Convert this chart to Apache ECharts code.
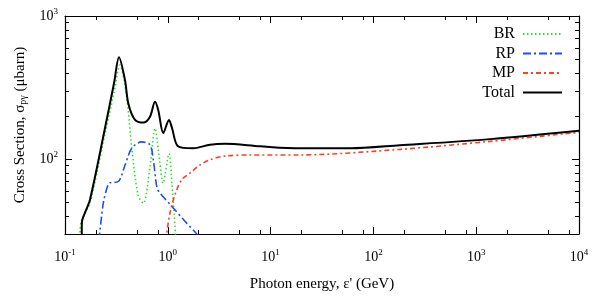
<!DOCTYPE html>
<html><head><meta charset="utf-8">
<script src="https://cdn.jsdelivr.net/npm/echarts@6/dist/echarts.min.js"></script>
<style>html,body{margin:0;padding:0;background:#fff}#c{width:599px;height:300px}</style>
</head><body><div id="c"></div>
<script>
// Photon energy (GeV) and cross sections (μbarn)
const brE = [0.139, 0.143, 0.175, 0.245, 0.30, 0.343, 0.398, 0.446, 0.513, 0.578, 0.671, 0.751, 0.830, 0.898, 1.027, 1.099, 1.20];
const brV = [27, 36, 49.6, 150, 291, 454, 273, 120, 56.4, 49.2, 88.8, 164, 99, 68, 109, 66, 27];

const rpE = [0.214, 0.236, 0.262, 0.274, 0.330, 0.384, 0.446, 0.557, 0.671, 0.723, 0.785, 0.840, 1.131, 1.47, 1.91, 1.98];
const rpV = [27, 49.4, 66.2, 68.4, 69.8, 91, 119, 132, 126, 99, 63, 58, 45.6, 36.8, 30, 28];

const mpE = [0.955, 1.05, 1.175, 1.365, 1.644, 2.056, 2.57, 3.6, 6.3, 19.3, 181, 1361, 10000];
const mpV = [27, 42.1, 56.4, 71.8, 79.9, 91, 99, 105, 107, 107, 117, 133, 154];

const totE = [0.1455, 0.1458, 0.1565, 0.175, 0.245, 0.30, 0.335, 0.3836, 0.4128, 0.48, 0.578, 0.671, 0.751, 0.808, 0.904, 1.027, 1.099, 1.257, 1.758, 2.574, 3.6, 7.9, 19.3, 59, 181, 1361, 10000];
const totV = [27, 36, 42.3, 52.1, 165, 340, 516, 356, 245, 188, 180, 198, 252, 220, 152, 188, 165, 123, 119, 126, 128, 123, 119, 119, 125, 138, 158];

const xMajor = [0.1, 1, 10, 100, 1000, 10000];
const xMinor = [0.2, 0.5, 0.8, 2, 5, 8, 20, 50, 80, 200, 500, 800, 2000, 5000, 8000];
const yMajor = [100, 1000];
const yMinor = [40, 50, 60, 70, 80, 90, 200, 300, 400, 500, 600, 700, 800, 900];
const xRange = [0.1, 10000];
const yRange = [30, 1000];

const L = Math.log10;
const pts = (E, V) => E.map((e, i) => [L(e), L(V[i])]);
const FONT = 'Liberation Serif';

const xmin = L(xRange[0]), xmax = L(xRange[1]);
const ymin = L(yRange[0]), ymax = L(yRange[1]);

const labelRich = {
  b: { fontFamily: FONT, fontSize: 14, color: '#000' },
  s: { fontFamily: FONT, fontSize: 9, color: '#000', padding: [0, 0, 9, 0] }
};
const fmt = v => '{b|10}{s|' + Math.round(v) + '}';

function xAx(pos, ticks, len, labels) {
  return {
    type: 'value', min: xmin, max: xmax, position: pos,
    axisLine: { show: labels, lineStyle: { color: '#000', width: 1.2 } },
    axisTick: { show: true, inside: true, length: len, customValues: ticks.map(L), lineStyle: { color: '#000', width: 1 } },
    axisLabel: labels ? { show: true, customValues: xMajor.map(L), formatter: fmt, rich: labelRich, margin: 14 } : { show: false },
    splitLine: { show: false }
  };
}
function yAx(pos, ticks, len, labels) {
  return {
    type: 'value', min: ymin, max: ymax, position: pos,
    axisLine: { show: labels, onZero: false, lineStyle: { color: '#000', width: 1.2 } },
    axisTick: { show: true, inside: true, length: len, customValues: ticks.map(L), lineStyle: { color: '#000', width: 1 } },
    axisLabel: labels ? { show: true, customValues: yMajor.map(L), formatter: fmt, rich: labelRich, margin: 7 } : { show: false },
    splitLine: { show: false }
  };
}

const xAxes = [xAx('bottom', xMajor, 7, true), xAx('bottom', xMinor, 4, false), xAx('top', xMajor, 7, true), xAx('top', xMinor, 4, false)];
xAxes[2].axisLabel = { show: false };
xAxes[0].name = "Photon energy, ε' (GeV)";
xAxes[0].nameLocation = 'middle';
xAxes[0].nameGap = 43;
xAxes[0].nameTextStyle = { fontFamily: FONT, fontSize: 15, color: '#000' };

const yAxes = [yAx('left', yMajor, 7, true), yAx('left', yMinor, 4, false), yAx('right', yMajor, 7, true), yAx('right', yMinor, 4, false)];
yAxes[2].axisLabel = { show: false };
yAxes[0].name = '{a|Cross Section, σ}{s|pγ}{a| (μbarn)}';
yAxes[0].nameLocation = 'middle';
yAxes[0].nameGap = 33;
yAxes[0].nameTextStyle = {
  rich: {
    a: { fontFamily: FONT, fontSize: 15, color: '#000' },
    s: { fontFamily: FONT, fontSize: 10, color: '#000', padding: [8, 0, 0, 0] }
  }
};

function ser(name, E, V, color, width, dash) {
  return {
    name, type: 'line', xAxisIndex: 0, yAxisIndex: 0, data: pts(E, V),
    showSymbol: false, symbol: 'none', smooth: 0.3, clip: true,
    lineStyle: { color, width, type: dash }, itemStyle: { color },
    emphasis: { disabled: true }
  };
}

const chart = echarts.init(document.getElementById('c'), null, { renderer: 'canvas' });
chart.setOption({
  animation: false,
  backgroundColor: '#fff',
  grid: { left: 65, top: 16, width: 514, height: 218, containLabel: false },
  xAxis: xAxes,
  yAxis: yAxes,
  legend: {
    orient: 'vertical', right: 31, top: 21, align: 'right',
    itemWidth: 39, itemHeight: 14, itemGap: 3.5,
    itemStyle: { opacity: 0 },
    textStyle: { fontFamily: FONT, fontSize: 16, color: '#000', padding: [0, 3, 0, 0] },
    data: ['BR', 'RP', 'MP', 'Total']
  },
  series: [
    ser('BR', brE, brV, '#2ee02e', 1.6, [1.5, 2.5]),
    ser('RP', rpE, rpV, '#1f4fe8', 1.6, [8, 3, 2, 3]),
    ser('MP', mpE, mpV, '#ff3f1f', 1.6, [5, 3, 2, 3]),
    ser('Total', totE, totV, '#000', 2, 'solid')
  ]
});
</script>
</body></html>
